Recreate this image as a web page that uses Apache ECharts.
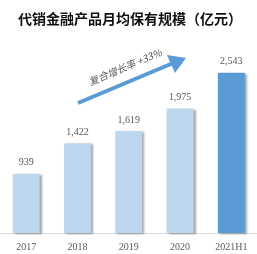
<!DOCTYPE html>
<html><head><meta charset="utf-8">
<script src="https://cdn.jsdelivr.net/npm/echarts@6/dist/echarts.min.js"></script>
<style>html,body{margin:0;padding:0;background:#fff}#c{width:257px;height:254px}</style>
</head><body><div id="c"></div>
<script>
const categories = ['2017', '2018', '2019', '2020', '2021H1'];
const values = [939, 1422, 1619, 1975, 2543];
const barColors = ['#BDD7EE', '#BDD7EE', '#BDD7EE', '#BDD7EE', '#5B9BD5'];
const titleText = '代销金融产品月均保有规模（亿元）';
const growthText = '复合增长率 +33%';

const chart = echarts.init(document.getElementById('c'));
const angle = Math.atan2(103 - 58, 185 - 78);
chart.setOption({
  animation: false,
  title: {text: titleText, left: 13, top: 7, textStyle: {fontSize: 14, fontWeight: 'bold', color: '#111', fontFamily: 'Noto Sans CJK SC'}},
  grid: {left: 0.5, width: 260, top: 44, bottom: 21},
  xAxis: {type: 'category', data: categories,
    axisLine: {lineStyle: {color: '#D9D9D9', width: 1}}, axisTick: {show: false},
    axisLabel: {color: '#595959', fontSize: 10, fontFamily: 'Liberation Serif', margin: 9}},
  yAxis: {type: 'value', min: 0, max: 3000, show: false, splitLine: {show: false}},
  series: [{type: 'bar', barWidth: 27,
    data: values.map((v, i) => ({value: v, itemStyle: {color: barColors[i]}})),
    itemStyle: {shadowColor: 'rgba(0,0,0,0.35)', shadowOffsetX: 2, shadowOffsetY: 1, shadowBlur: 2},
    label: {show: true, position: 'top', distance: 6, color: '#595959', fontSize: 10, fontFamily: 'Liberation Serif',
      formatter: p => p.value.toLocaleString('en-US')}}],
  graphic: [
    {type: 'line', shape: {x1: 78, y1: 103, x2: 172, y2: 63.5}, style: {stroke: '#5B9BD5', lineWidth: 4}},
    {type: 'polygon', shape: {points: [[186, 58], [167, 55], [175, 73]]}, style: {fill: '#5B9BD5'}},
    {type: 'text', x: 125, y: 67, rotation: angle, style: {text: growthText, fill: '#595959', fontSize: 10,
      fontStyle: 'italic', fontFamily: 'Noto Sans CJK SC', align: 'center', verticalAlign: 'middle'}}
  ]
});
</script></body></html>
